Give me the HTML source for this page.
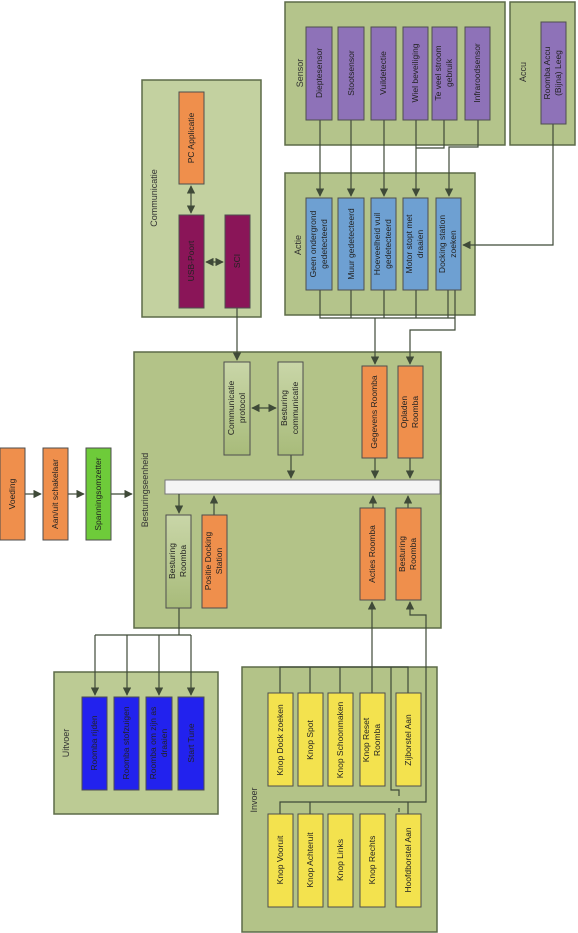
<!DOCTYPE html>
<html><head><meta charset="utf-8"><style>
html,body{margin:0;padding:0;background:#fff;}
svg{display:block;font-family:"Liberation Sans",sans-serif;}
</style></head><body>
<svg width="578" height="933" viewBox="0 0 578 933" xmlns="http://www.w3.org/2000/svg">
<defs>
<marker id="a" viewBox="0 0 10 10" refX="9" refY="5" markerWidth="7" markerHeight="7" orient="auto-start-reverse"><path d="M0,0 L10,5 L0,10 z" fill="#3f4a38"/></marker>
<linearGradient id="gg" x1="0" y1="0" x2="0" y2="1"><stop offset="0" stop-color="#c9d6a8"/><stop offset="1" stop-color="#a8bb7a"/></linearGradient>
</defs>
<g stroke="#5d6b48" stroke-width="1.5">
<rect x="285" y="2" width="220" height="143" fill="#b4c48b"/>
<rect x="510" y="2" width="65" height="143" fill="#b4c48b"/>
<rect x="285" y="173" width="190" height="142" fill="#b4c48b"/>
<rect x="142" y="80" width="119" height="237" fill="#c3d1a0"/>
<rect x="134" y="352" width="307" height="276" fill="#b3c388"/>
<rect x="54" y="672" width="164" height="142" fill="#bccb94"/>
<rect x="242" y="667" width="195" height="265" fill="#b3c388"/>
</g>
<rect x="165" y="480" width="275" height="14" fill="#f4f4f4" stroke="#777" stroke-width="1"/>
<g fill="#333" font-size="9">
<text transform="translate(300,73) rotate(-90)" text-anchor="middle" y="3">Sensor</text>
<text transform="translate(523,72) rotate(-90)" text-anchor="middle" y="3">Accu</text>
<text transform="translate(298,245) rotate(-90)" text-anchor="middle" y="3">Actie</text>
<text transform="translate(154,198) rotate(-90)" text-anchor="middle" y="3">Communicatie</text>
<text transform="translate(145,490) rotate(-90)" text-anchor="middle" y="3">Besturingseenheid</text>
<text transform="translate(66,743) rotate(-90)" text-anchor="middle" y="3">Uitvoer</text>
<text transform="translate(254,800) rotate(-90)" text-anchor="middle" y="3">Invoer</text>
</g>
<!-- connectors -->
<g stroke="#3f4a38" stroke-width="1.2" fill="none">
<path d="M320,120 V196" marker-end="url(#a)"/>
<path d="M351,120 V196" marker-end="url(#a)"/>
<path d="M384,120 V196" marker-end="url(#a)"/>
<path d="M416,120 V196" marker-end="url(#a)"/>
<path d="M444,120 V148 H416"/>
<path d="M478,120 V147 H449 V196" marker-end="url(#a)"/>
<path d="M553,124 V245 H463" marker-end="url(#a)"/>
<path d="M320,290 V318 H455 M351,290 V318 M384,290 V318 M416,290 V318 M448,290 V318 M455,290 V318"/>
<path d="M375,318 V364" marker-end="url(#a)"/>
<path d="M455,318 V330 H410 V364" marker-end="url(#a)"/>
<path d="M191,186 V213" marker-start="url(#a)" marker-end="url(#a)"/>
<path d="M206,262 H223" marker-start="url(#a)" marker-end="url(#a)"/>
<path d="M237,308 V360" marker-end="url(#a)"/>
<path d="M252,408 H276" marker-start="url(#a)" marker-end="url(#a)"/>
<path d="M291,455 V478" marker-end="url(#a)"/>
<path d="M375,458 V478" marker-end="url(#a)"/>
<path d="M410,458 V478" marker-end="url(#a)"/>
<path d="M373,508 V496" marker-end="url(#a)"/>
<path d="M408,508 V496" marker-end="url(#a)"/>
<path d="M179,494 V513" marker-end="url(#a)"/>
<path d="M214,515 V496" marker-end="url(#a)"/>
<path d="M25,494 H41" marker-end="url(#a)"/>
<path d="M68,494 H84" marker-end="url(#a)"/>
<path d="M111,494 H132" marker-end="url(#a)"/>
<path d="M179,608 V635 M95,635 H191"/>
<path d="M95,635 V695" marker-end="url(#a)"/>
<path d="M127,635 V695" marker-end="url(#a)"/>
<path d="M159,635 V695" marker-end="url(#a)"/>
<path d="M191,635 V695" marker-end="url(#a)"/>
<path d="M372,667 V602" marker-end="url(#a)"/>
<path d="M280,693 V667 H408 V693 M310,667 V693 M340,667 V693 M372,667 V693"/>
<path d="M391,667 V790 H399 V796 M399,808 V812"/>
<path d="M280,814 V802 H426 V615 H410 V602" marker-end="url(#a)"/>
<path d="M310,802 V814 M408,802 V814"/>
</g>
<!-- boxes -->
<g stroke="#4e4e4e" stroke-width="1">
<g fill="#8e72b8">
<rect x="306" y="27" width="26" height="93"/><rect x="338" y="27" width="26" height="93"/><rect x="371" y="27" width="25" height="93"/><rect x="403" y="27" width="25" height="93"/><rect x="432" y="27" width="25" height="93"/><rect x="465" y="27" width="25" height="93"/><rect x="541" y="22" width="25" height="102"/>
</g>
<g fill="#6ea0d2">
<rect x="306" y="198" width="26" height="92"/><rect x="338" y="198" width="26" height="92"/><rect x="371" y="198" width="25" height="92"/><rect x="403" y="198" width="25" height="92"/><rect x="436" y="198" width="25" height="92"/>
</g>
<g fill="#ef8f4c">
<rect x="179" y="92" width="25" height="92"/><rect x="362" y="366" width="25" height="92"/><rect x="398" y="366" width="25" height="92"/><rect x="202" y="515" width="25" height="93"/><rect x="360" y="508" width="25" height="92"/><rect x="396" y="508" width="25" height="92"/><rect x="0" y="448" width="25" height="92"/><rect x="43" y="448" width="25" height="92"/>
</g>
<rect x="86" y="448" width="25" height="92" fill="#6ecb3a"/>
<g fill="#8a1558"><rect x="179" y="215" width="25" height="93"/><rect x="225" y="215" width="25" height="93"/></g>
<g fill="url(#gg)"><rect x="224" y="362" width="26" height="93"/><rect x="278" y="362" width="25" height="93"/><rect x="166" y="515" width="25" height="93"/></g>
<g fill="#2222ee"><rect x="82" y="697" width="25" height="93"/><rect x="114" y="697" width="25" height="93"/><rect x="146" y="697" width="26" height="93"/><rect x="178" y="697" width="26" height="93"/></g>
<g fill="#f3e24e"><rect x="268" y="693" width="25" height="93"/><rect x="298" y="693" width="25" height="93"/><rect x="328" y="693" width="25" height="93"/><rect x="360" y="693" width="25" height="93"/><rect x="396" y="693" width="25" height="93"/>
<rect x="268" y="814" width="25" height="93"/><rect x="298" y="814" width="25" height="93"/><rect x="328" y="814" width="25" height="93"/><rect x="360" y="814" width="25" height="93"/><rect x="396" y="814" width="25" height="93"/></g>
</g>
<!-- labels -->
<g fill="#222" font-size="8.5" text-anchor="middle">
<text transform="translate(319,73) rotate(-90)" y="3">Dieptesensor</text>
<text transform="translate(351,73) rotate(-90)" y="3">Stootsensor</text>
<text transform="translate(383,73) rotate(-90)" y="3">Vuildetectie</text>
<text transform="translate(415,73) rotate(-90)" y="3">Wiel beveiliging</text>
<text transform="translate(444,73) rotate(-90)"><tspan x="0" y="-3">Te veel stroom</tspan><tspan x="0" y="8">gebruik</tspan></text>
<text transform="translate(477,73) rotate(-90)" y="3">Infraroodsensor</text>
<text transform="translate(553,73) rotate(-90)"><tspan x="0" y="-3">Roomba Accu</tspan><tspan x="0" y="8">(Bijna) Leeg</tspan></text>
<text transform="translate(319,244) rotate(-90)"><tspan x="0" y="-3">Geen ondergrond</tspan><tspan x="0" y="8">gedetecteerd</tspan></text>
<text transform="translate(351,244) rotate(-90)" y="3">Muur gedetecteerd</text>
<text transform="translate(383,244) rotate(-90)"><tspan x="0" y="-3">Hoeveelheid vuil</tspan><tspan x="0" y="8">gedetecteerd</tspan></text>
<text transform="translate(415,244) rotate(-90)"><tspan x="0" y="-3">Motor stopt met</tspan><tspan x="0" y="8">draaien</tspan></text>
<text transform="translate(448,244) rotate(-90)"><tspan x="0" y="-3">Docking station</tspan><tspan x="0" y="8">zoeken</tspan></text>
<text transform="translate(191,138) rotate(-90)" y="3">PC Applicatie</text>
<text transform="translate(191,261) rotate(-90)" y="3">USB-Poort</text>
<text transform="translate(237,261) rotate(-90)" y="3">SCI</text>
<text transform="translate(237,408) rotate(-90)"><tspan x="0" y="-3">Communicatie</tspan><tspan x="0" y="8">protocol</tspan></text>
<text transform="translate(290,408) rotate(-90)"><tspan x="0" y="-3">Besturing</tspan><tspan x="0" y="8">communicatie</tspan></text>
<text transform="translate(374,412) rotate(-90)" y="3">Gegevens Roomba</text>
<text transform="translate(410,412) rotate(-90)"><tspan x="0" y="-3">Opladen</tspan><tspan x="0" y="8">Roomba</tspan></text>
<text transform="translate(178,561) rotate(-90)"><tspan x="0" y="-3">Besturing</tspan><tspan x="0" y="8">Roomba</tspan></text>
<text transform="translate(214,561) rotate(-90)"><tspan x="0" y="-3">Positie Docking</tspan><tspan x="0" y="8">Station</tspan></text>
<text transform="translate(372,554) rotate(-90)" y="3">Acties Roomba</text>
<text transform="translate(408,554) rotate(-90)"><tspan x="0" y="-3">Besturing</tspan><tspan x="0" y="8">Roomba</tspan></text>
<text transform="translate(12,494) rotate(-90)" y="3">Voeding</text>
<text transform="translate(55,494) rotate(-90)" y="3">Aan/uit schakelaar</text>
<text transform="translate(98,494) rotate(-90)" y="3">Spanningsomzetter</text>
<text transform="translate(94,743) rotate(-90)" y="3">Roomba rijden</text>
<text transform="translate(126,743) rotate(-90)" y="3">Roomba stofzuigen</text>
<text transform="translate(159,743) rotate(-90)"><tspan x="0" y="-3">Roomba om zijn as</tspan><tspan x="0" y="8">draaien</tspan></text>
<text transform="translate(191,743) rotate(-90)" y="3">Start Tune</text>
<text transform="translate(280,740) rotate(-90)" y="3">Knop Dock zoeken</text>
<text transform="translate(310,740) rotate(-90)" y="3">Knop Spot</text>
<text transform="translate(340,740) rotate(-90)" y="3">Knop Schoonmaken</text>
<text transform="translate(372,740) rotate(-90)"><tspan x="0" y="-3">Knop Reset</tspan><tspan x="0" y="8">Roomba</tspan></text>
<text transform="translate(408,740) rotate(-90)" y="3">Zijborstel Aan</text>
<text transform="translate(280,860) rotate(-90)" y="3">Knop Vooruit</text>
<text transform="translate(310,860) rotate(-90)" y="3">Knop Achteruit</text>
<text transform="translate(340,860) rotate(-90)" y="3">Knop Links</text>
<text transform="translate(372,860) rotate(-90)" y="3">Knop Rechts</text>
<text transform="translate(408,860) rotate(-90)" y="3">Hoofdborstel Aan</text>
</g>
</svg>
</body></html>
